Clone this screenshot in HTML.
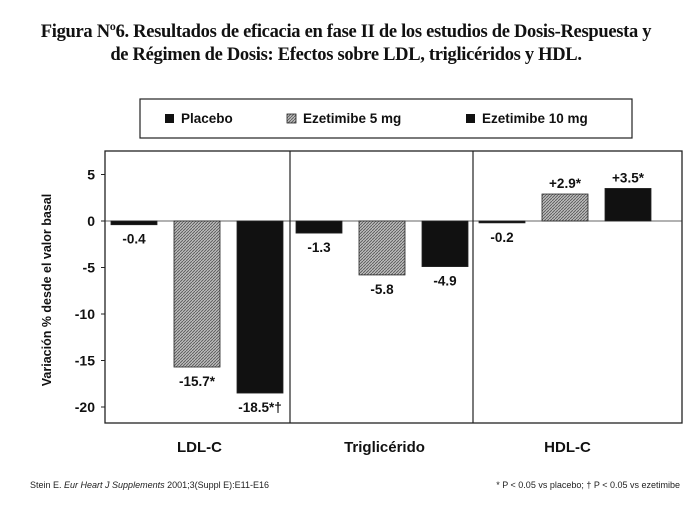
<!DOCTYPE html>
<html><head><meta charset="utf-8"><style>
html,body{margin:0;padding:0;background:#fff;}
body{width:692px;height:506px;overflow:hidden;position:relative;font-family:"Liberation Sans",sans-serif;}
.title{position:absolute;left:0;top:21px;width:692px;text-align:center;font-family:"Liberation Serif",serif;font-weight:bold;font-size:18.5px;line-height:23px;letter-spacing:-0.3px;color:#111;}
</style></head><body>
<div class="title">Figura Nº6. Resultados de eficacia en fase II de los estudios de Dosis-Respuesta y<br>de Régimen de Dosis: Efectos sobre LDL, triglicéridos y HDL.</div>
<svg id="chart" width="692" height="506" style="position:absolute;left:0;top:0">
<defs><pattern id="hatch" width="3" height="3" patternUnits="userSpaceOnUse"><rect width="3" height="3" fill="#bbb"/><path d="M0,3 L3,0" stroke="#555" stroke-width="0.8"/></pattern></defs>
<g>
<rect x="140" y="99" width="492" height="39" fill="#fff" stroke="#222" stroke-width="1.2"/>
<rect x="165" y="114" width="9" height="9" fill="#111"/><text x="181" y="123" font-size="13.5" font-weight="bold" fill="#111">Placebo</text>
<rect x="287" y="114" width="9" height="9" fill="url(#hatch)" stroke="#222" stroke-width="0.8"/><text x="303" y="123" font-size="13.5" font-weight="bold" fill="#111">Ezetimibe 5 mg</text>
<rect x="466" y="114" width="9" height="9" fill="#111"/><text x="482" y="123" font-size="13.5" font-weight="bold" fill="#111">Ezetimibe 10 mg</text>
</g>
<g id="plot"></g>
<text x="30" y="488" font-size="9" fill="#222">Stein E. <tspan font-style="italic">Eur Heart J Supplements</tspan> 2001;3(Suppl E):E11-E16</text>
<text x="680" y="488" font-size="9" fill="#222" text-anchor="end">* P &lt; 0.05 vs placebo; † P &lt; 0.05 vs ezetimibe</text>
</svg>
<script>
const categories = ["LDL-C", "Triglicérido", "HDL-C"];
const placebo = [-0.4, -1.3, -0.2];
const eze5 = [-15.7, -5.8, 2.9];
const eze10 = [-18.5, -4.9, 3.5];
const labels5 = ["-15.7*", "-5.8", "+2.9*"];
const labels10 = ["-18.5*†", "-4.9", "+3.5*"];
const labelsP = ["-0.4", "-1.3", "-0.2"];
const yTicks = [5, 0, -5, -10, -15, -20];

const NS = "http://www.w3.org/2000/svg";
const g = document.getElementById("plot");
const L = 105, R = 682, T = 151, B = 423;
const bounds = [105, 290, 473, 682];
const y = v => 221 - v * 9.3;
function mk(tag, attrs, txt) {
  const e = document.createElementNS(NS, tag);
  for (const k in attrs) e.setAttribute(k, attrs[k]);
  if (txt !== undefined) e.textContent = txt;
  g.appendChild(e);
  return e;
}
const frame = mk("rect", {x: L, y: T, width: R - L, height: B - T, fill: "#fff", stroke: "#222", "stroke-width": 1.3});


yTicks.forEach(t => {
  const tk = mk("line", {x1: L - 4, x2: L, y1: y(t), y2: y(t), stroke: "#222"});
  
  
  const tl = mk("text", {x: L - 10, y: y(t) + 5, "font-size": 14, "font-weight": "bold", "text-anchor": "end", fill: "#111"}, String(t));
  
  
});
const yt = mk("text", {x: 0, y: 0, "font-size": 12.5, "font-weight": "bold", "text-anchor": "middle", fill: "#111", transform: "translate(51,290) rotate(-90)"}, "Variación % desde el valor basal");


mk("line", {x1: L, x2: R, y1: y(0), y2: y(0), stroke: "#333", "stroke-width": 0.8});
const series = [[placebo, "#111", labelsP], [eze5, "url(#hatch)", labels5], [eze10, "#111", labels10]];
categories.forEach((c, i) => {
  const gx = bounds[i];
  if (i > 0) {
    const d = mk("line", {x1: gx, x2: gx, y1: T, y2: B, stroke: "#222", "stroke-width": 1.2});
    
    
  }
  const cl = mk("text", {x: gx + 6 + 177 / 2, y: 452, "font-size": 15, "font-weight": "bold", "text-anchor": "middle", fill: "#111"}, c);
  
  
  series.forEach((s, j) => {
    const v = s[0][i];
    const bx = gx + 6 + j * 63, bw = 46;
    const y0 = Math.min(y(0), y(v)), h = Math.max(Math.abs(y(v) - y(0)), 1.5);
    const b = mk("rect", {x: bx, y: y0, width: bw, height: h, fill: s[1], stroke: "#222", "stroke-width": 0.8});
    
    
    const ly = v >= 0 ? y(v) - 6 : y(v) + 19;
    const lb = mk("text", {x: bx + bw / 2, y: ly, "font-size": 13.5, "font-weight": "bold", "text-anchor": "middle", fill: "#111"}, s[2][i]);
    
    
  });
});
</script>
</body></html>
